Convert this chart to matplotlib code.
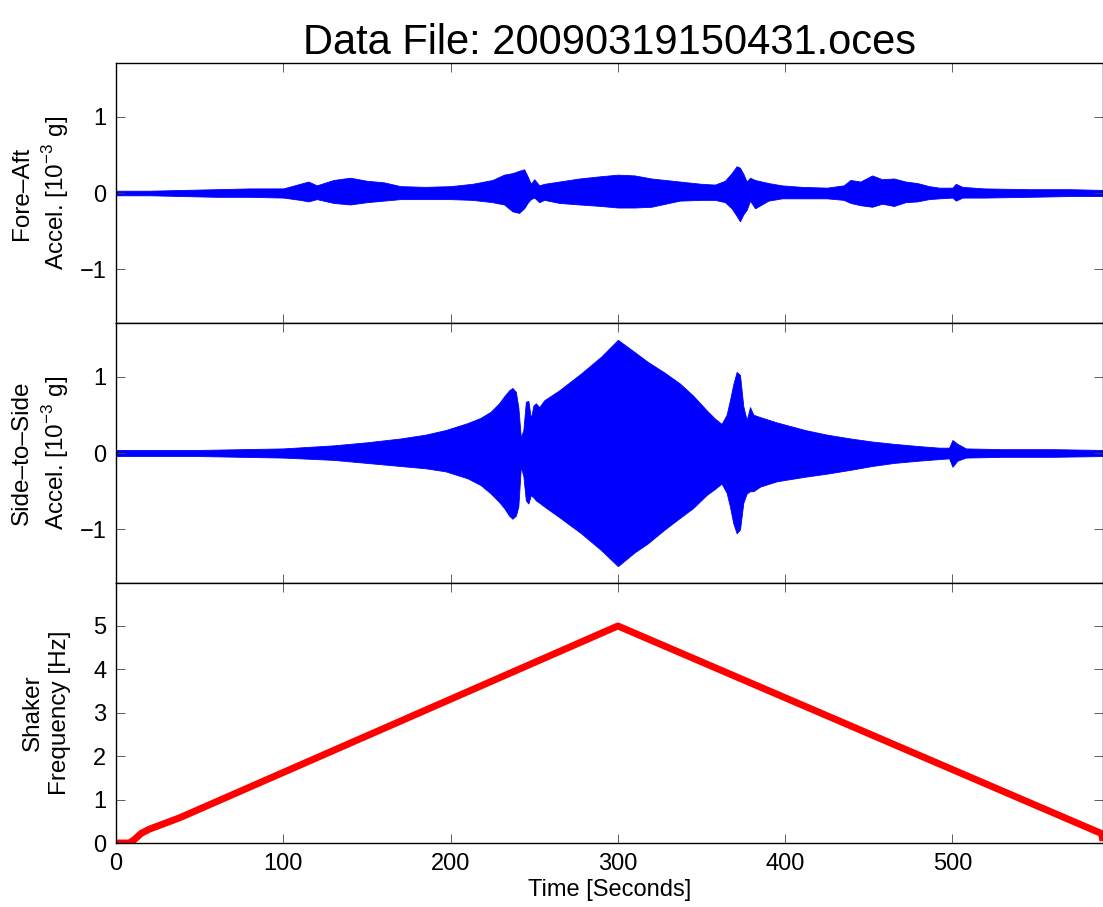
import matplotlib
matplotlib.use("Agg")
import matplotlib.pyplot as plt

plt.rcParams['font.family'] = ['Liberation Sans', 'DejaVu Sans']

# Fore-Aft acceleration envelope [1e-3 g]
fa_t = [0, 20, 40, 60, 80, 100, 110, 115, 120, 130, 140, 150, 160, 170, 185,
        200, 213, 225, 232, 237, 241, 244, 246, 248, 250, 253, 256, 265, 277,
        290, 300, 310, 320, 337, 350, 358, 364, 368, 371, 373, 375, 377, 379,
        382, 390, 398, 410, 425, 435, 439, 445, 452, 458, 465, 472, 479, 486,
        492, 500, 502, 506, 519, 546, 570, 590]
fa_up = [0.03, 0.03, 0.04, 0.05, 0.06, 0.06, 0.12, 0.15, 0.10, 0.17, 0.20,
         0.16, 0.14, 0.09, 0.08, 0.09, 0.12, 0.17, 0.24, 0.26, 0.29, 0.31,
         0.22, 0.12, 0.18, 0.10, 0.12, 0.15, 0.19, 0.22, 0.24, 0.23, 0.19,
         0.15, 0.12, 0.11, 0.16, 0.26, 0.35, 0.33, 0.25, 0.15, 0.20, 0.17,
         0.13, 0.10, 0.08, 0.07, 0.10, 0.17, 0.15, 0.23, 0.18, 0.19, 0.15,
         0.13, 0.09, 0.07, 0.07, 0.12, 0.08, 0.06, 0.05, 0.05, 0.04]
fa_lo = [-0.03, -0.03, -0.04, -0.05, -0.05, -0.06, -0.09, -0.11, -0.08,
         -0.13, -0.15, -0.12, -0.10, -0.08, -0.08, -0.08, -0.09, -0.12, -0.15,
         -0.24, -0.26, -0.20, -0.13, -0.08, -0.06, -0.12, -0.09, -0.13, -0.15,
         -0.17, -0.19, -0.19, -0.18, -0.10, -0.09, -0.09, -0.12, -0.20, -0.30,
         -0.37, -0.28, -0.22, -0.10, -0.20, -0.10, -0.07, -0.07, -0.07, -0.09,
         -0.13, -0.16, -0.18, -0.14, -0.17, -0.12, -0.11, -0.08, -0.07, -0.06,
         -0.10, -0.06, -0.06, -0.05, -0.04, -0.04]

# Side-to-Side acceleration envelope [1e-3 g]
ss_t = [0, 50, 100, 130, 150, 170, 185, 197, 210, 218, 224, 229, 232, 235,
        237, 239, 240.5, 242, 243.5, 245, 246.5, 248, 249.5, 251, 253, 256,
        265, 278, 290, 300, 310, 318, 328, 337, 345, 353, 358, 362, 365, 367,
        369, 371, 373, 375, 377, 379, 381, 385, 395, 412, 425, 439, 452, 465,
        480, 492, 498, 500, 503, 508, 530, 560, 590]
ss_up = [0.04, 0.04, 0.06, 0.10, 0.14, 0.19, 0.24, 0.30, 0.39, 0.46, 0.54,
         0.65, 0.74, 0.82, 0.85, 0.80, 0.60, 0.20, 0.30, 0.67, 0.68, 0.45,
         0.62, 0.65, 0.60, 0.69, 0.82, 1.04, 1.26, 1.48, 1.32, 1.19, 1.05,
         0.91, 0.75, 0.56, 0.45, 0.38, 0.50, 0.69, 0.90, 1.06, 1.02, 0.61,
         0.43, 0.60, 0.50, 0.47, 0.40, 0.30, 0.24, 0.19, 0.15, 0.12, 0.09,
         0.07, 0.07, 0.17, 0.12, 0.06, 0.05, 0.05, 0.04]
ss_lo = [-0.04, -0.04, -0.06, -0.09, -0.13, -0.17, -0.20, -0.24, -0.33,
         -0.42, -0.53, -0.64, -0.72, -0.82, -0.86, -0.82, -0.70, -0.18, -0.30,
         -0.62, -0.66, -0.55, -0.58, -0.62, -0.65, -0.70, -0.84, -1.05, -1.27,
         -1.48, -1.30, -1.18, -1.00, -0.85, -0.72, -0.55, -0.47, -0.40, -0.52,
         -0.70, -0.92, -1.05, -1.00, -0.65, -0.53, -0.50, -0.50, -0.44, -0.37,
         -0.31, -0.27, -0.22, -0.17, -0.13, -0.10, -0.08, -0.07, -0.18, -0.10,
         -0.06, -0.05, -0.05, -0.04]

# Shaker frequency [Hz]
fr_t = [0, 8, 11, 15, 20, 38, 300, 589, 590]
fr_hz = [0, 0, 0.08, 0.22, 0.32, 0.58, 5.0, 0.22, 0.05]

title = "Data File: 20090319150431.oces"
ylabels = ["Fore\u2013Aft\nAccel. [10$^{\\mathregular{-3}}$ g]",
           "Side\u2013to\u2013Side\nAccel. [10$^{\\mathregular{-3}}$ g]",
           "Shaker\nFrequency [Hz]"]

fig = plt.figure(figsize=(11.03, 9.07), dpi=100)
left, width = 116 / 1103, 987 / 1103
h = 260 / 907
bottoms = [584 / 907, 324 / 907, 64 / 907]
axes = [fig.add_axes([left, b, width, h]) for b in bottoms]

blue = '#0000ff'
axes[0].fill_between(fa_t, fa_lo, fa_up, color=blue, lw=0.6)
axes[1].fill_between(ss_t, ss_lo, ss_up, color=blue, lw=0.6)
axes[2].plot(fr_t, fr_hz, color='#ff0000', lw=5, solid_capstyle='butt')

for i, ax in enumerate(axes):
    ax.set_xlim(0, 590)
    ax.set_xticks([0, 100, 200, 300, 400, 500])
    ax.tick_params(direction='in', length=6.5, width=0.6, color='#444444',
                   top=True, right=True, labelsize=17, pad=7)
    for s in ax.spines.values():
        s.set_linewidth(1.0)
    if i < 2:
        ax.set_ylim(-1.7, 1.7)
        ax.set_yticks([-1, 0, 1])
        ax.tick_params(labelbottom=False)
    else:
        ax.set_ylim(0, 5.99)
        ax.set_yticks([0, 1, 2, 3, 4, 5])
    ax.set_ylabel(ylabels[i], fontsize=17.5, linespacing=1.3)
    ax.yaxis.set_label_coords(-0.046, 0.5)

axes[2].set_xlabel("Time [Seconds]", fontsize=17, labelpad=3)
axes[0].set_title(title, fontsize=30, pad=2)

fig.savefig("out.png", dpi=100)
